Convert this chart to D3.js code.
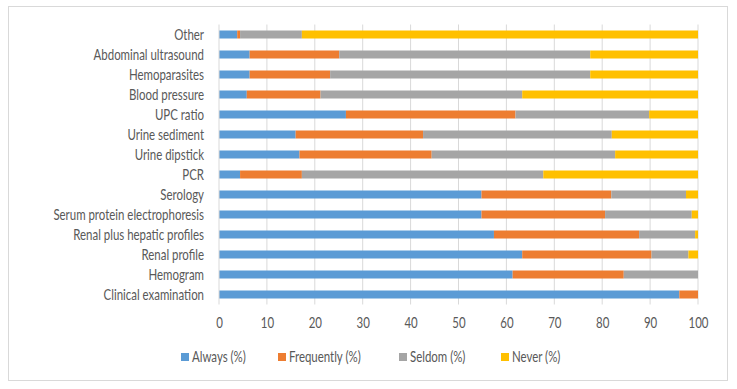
<!DOCTYPE html>
<html><head><meta charset="utf-8">
<script src="https://cdn.jsdelivr.net/npm/d3@7"></script>
<style>body{margin:0;background:#fff;}svg{display:block;font-family:Lato,Roboto,"Liberation Sans",sans-serif;}</style>
</head><body>
<script>
const categories = ["Other","Abdominal ultrasound","Hemoparasites","Blood pressure","UPC ratio","Urine sediment","Urine dipstick","PCR","Serology","Serum protein electrophoresis","Renal plus hepatic profiles","Renal profile","Hemogram","Clinical examination"];
const always     = [3.8, 6.4, 6.4, 5.8, 26.5, 16.0, 16.8, 4.4, 54.8, 54.8, 57.4, 63.3, 61.3, 96.1];
const frequently = [0.6, 18.7, 16.8, 15.4, 35.4, 26.6, 27.6, 12.9, 27.1, 25.8, 30.3, 27.0, 23.2, 3.9];
const seldom     = [12.9, 52.4, 54.3, 42.1, 27.9, 39.4, 38.3, 50.4, 15.6, 18.1, 11.7, 7.7, 15.5, 0];
const never      = [82.7, 22.5, 22.5, 36.7, 10.2, 18.0, 17.3, 32.3, 2.5, 1.3, 0.6, 2.0, 0, 0];
const seriesNames = ["Always (%)","Frequently (%)","Seldom (%)","Never (%)"];
const colors = ["#5b9bd5","#ed7d31","#a5a5a5","#ffc000"];
const xTicks = [0,10,20,30,40,50,60,70,80,90,100];

const W = 737, H = 389;
const svg = d3.select("body").append("svg").attr("width", W).attr("height", H);
svg.append("rect").attr("x",8.5).attr("y",6.5).attr("width",719).attr("height",374)
  .attr("fill","#fff").attr("stroke","#d9d9d9").attr("stroke-width",1);

const x = d3.scaleLinear().domain([0,100]).range([219,698]);
const y = d3.scaleBand().domain(categories).range([24.5,304.5]).paddingInner(0.6).paddingOuter(0.3);

svg.append("g").selectAll("line").data(xTicks.slice(1)).join("line")
  .attr("x1",d=>x(d)).attr("x2",d=>x(d)).attr("y1",24.5).attr("y2",304.5)
  .attr("stroke","#d9d9d9").attr("stroke-width",1);

const rows = categories.map((c,i)=>({cat:c, vals:[always[i],frequently[i],seldom[i],never[i]]}));
const stackData = rows.map(r=>{const o={cat:r.cat}; seriesNames.forEach((s,j)=>o[s]=r.vals[j]); return o;});
const stack = d3.stack().keys(seriesNames)(stackData);

svg.append("g").selectAll("g").data(stack).join("g").attr("fill",(d,i)=>colors[i])
  .selectAll("rect").data(d=>d).join("rect")
  .attr("x",d=>x(d[0])).attr("width",d=>Math.max(0,x(Math.min(100,d[1]))-x(d[0])))
  .attr("y",d=>y(d.data.cat)).attr("height",y.bandwidth());

svg.append("line").attr("x1",x(0)).attr("x2",x(0)).attr("y1",24.5).attr("y2",304.5)
  .attr("stroke","#d9d9d9");

const fs = 14.5, sx = 0.79;
svg.append("g").selectAll("text").data(categories).join("text")
  .attr("transform",d=>`translate(204,${y(d)+y.bandwidth()/2}) scale(${sx},1)`)
  .attr("dy","0.35em")
  .attr("text-anchor","end").attr("font-size",fs).attr("fill","#595959").text(d=>d);

const xAxis = d3.axisBottom(x).tickValues(xTicks).tickSize(0).tickPadding(0);
const gx = svg.append("g").attr("transform","translate(0,318)").call(xAxis);
gx.select(".domain").remove();
gx.selectAll("text").attr("font-size",fs).attr("fill","#595959")
  .attr("font-family","Lato, Roboto, sans-serif")
  .attr("transform",`scale(${sx},1)`).attr("x",0);

const legX = [181,278,399,501];
const leg = svg.append("g").selectAll("g").data(seriesNames).join("g")
  .attr("transform",(d,i)=>`translate(${legX[i]},357)`);
leg.append("rect").attr("x",0).attr("y",-4).attr("width",8).attr("height",8).attr("fill",(d,i)=>colors[i]);
leg.append("text").attr("transform",`translate(11,0) scale(${sx},1)`).attr("dy","0.35em")
  .attr("font-size",fs).attr("fill","#595959").text(d=>d);
</script>
</body></html>
